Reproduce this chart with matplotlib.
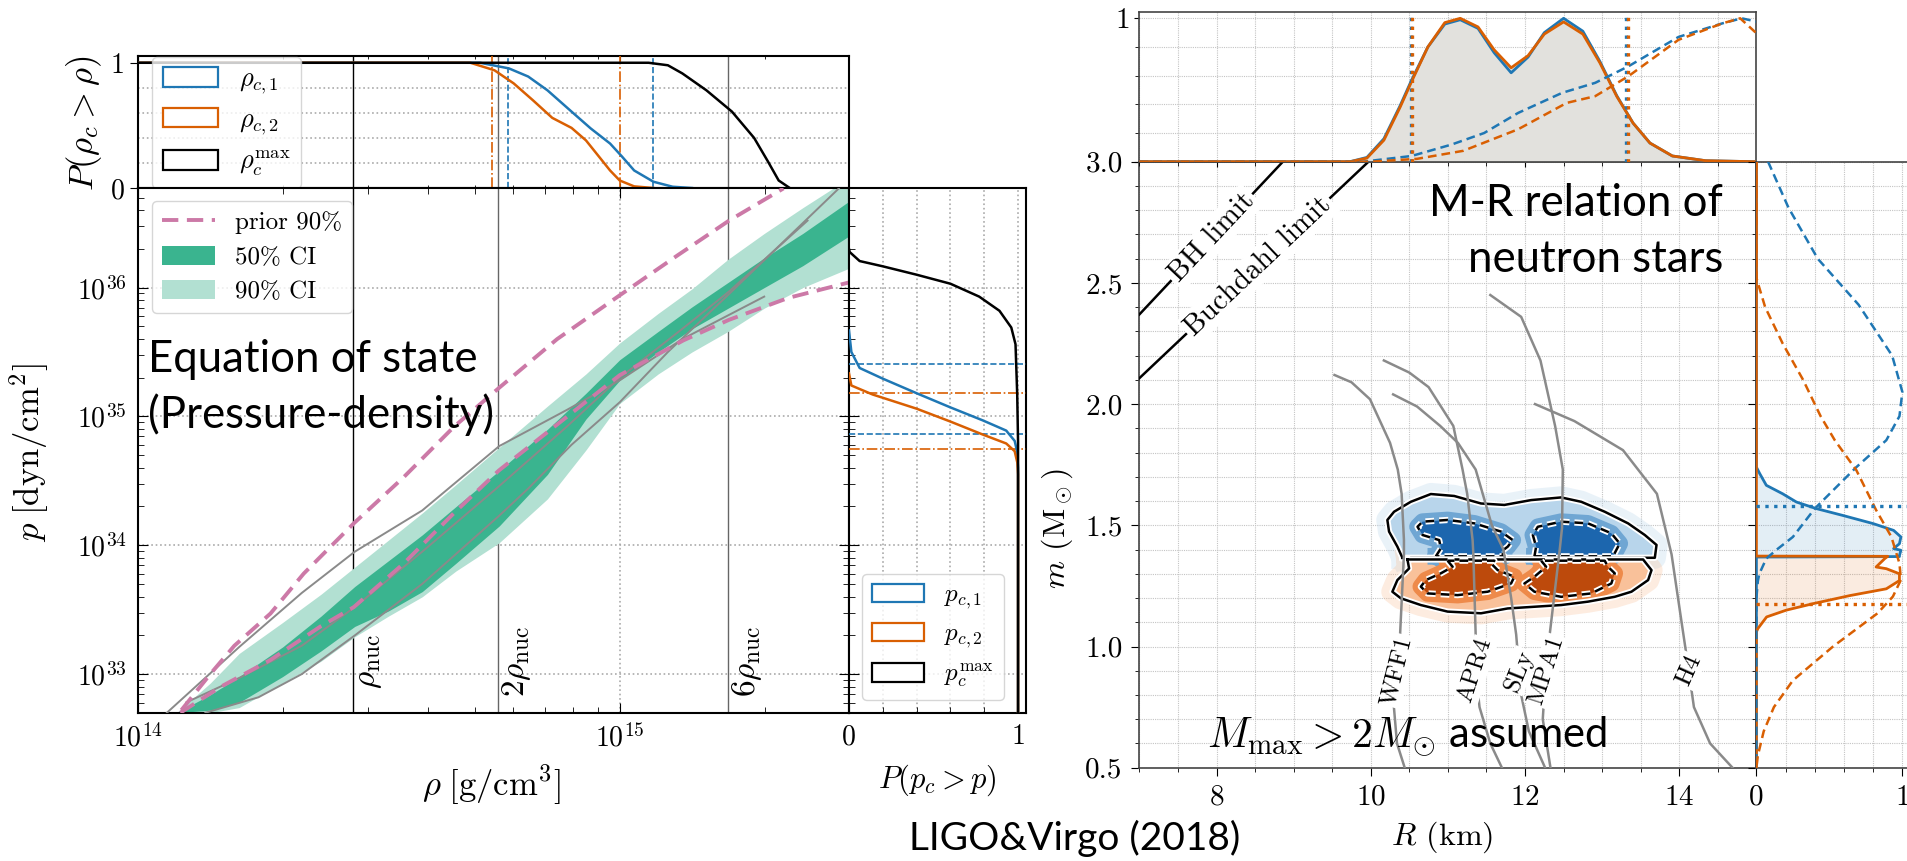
import numpy as np
import matplotlib
matplotlib.use("Agg")
import matplotlib.pyplot as plt
import matplotlib.patheffects as pe
from matplotlib.lines import Line2D
from matplotlib.patches import Patch
from matplotlib.ticker import MultipleLocator, FixedLocator, NullFormatter, LogLocator

plt.rcParams["font.family"] = ["cmr10", "DejaVu Serif"]
plt.rcParams["mathtext.fontset"] = "cm"
plt.rcParams["axes.formatter.use_mathtext"] = True
plt.rcParams["axes.unicode_minus"] = False

BLUE = "#1f77b4"
ORANGE = "#d95f02"
PINK = "#cc79a7"
DARK_GREEN = "#3ab48f"
LIGHT_GREEN = "#b2e0d2"
GREY = "#8a8a8a"
SANS = "Lato"

# ---------------- pressure-density data (log10 values) ----------------
log_rho_lim = (14.0, 15.476)
log_p_lim = (32.698, 36.773)
rho_nuc = 2.8e14
nuc_mult = [1, 2, 6]
nuc_text = [r"$\rho_{\rm nuc}$", r"$2\rho_{\rm nuc}$", r"$6\rho_{\rm nuc}$"]

# survival function of the central density
rc1_logrho = [14.0, 14.71, 14.77, 14.81, 14.85, 14.90, 14.94, 14.98, 15.005, 15.03, 15.07, 15.11, 15.15]
rc1_P = [1, 1, 0.955, 0.89, 0.78, 0.61, 0.475, 0.355, 0.25, 0.14, 0.05, 0.01, 0]
rc2_logrho = [14.0, 14.69, 14.74, 14.78, 14.82, 14.86, 14.90, 14.93, 14.955, 14.98, 15.00, 15.03, 15.07]
rc2_P = [1, 1, 0.94, 0.835, 0.70, 0.56, 0.48, 0.38, 0.26, 0.14, 0.06, 0.013, 0]
rcmax_logrho = [14.0, 15.06, 15.10, 15.13, 15.18, 15.233, 15.279, 15.308, 15.33, 15.353]
rcmax_P = [1, 1, 0.98, 0.915, 0.78, 0.61, 0.40, 0.21, 0.06, 0]
rc1_bounds = [14.769, 15.070]
rc2_bounds = [14.734, 15.0006]

# credible bands of the pressure
band_logrho = [14.08, 14.15, 14.21, 14.30, 14.38, 14.45, 14.52, 14.59, 14.66, 14.75,
               14.85, 14.93, 15.00, 15.08, 15.15, 15.225, 15.30, 15.38, 15.476]
ci90_hi = [32.70, 32.93, 33.16, 33.40, 33.62, 33.83, 34.04, 34.25, 34.47, 34.76,
           35.08, 35.33, 35.57, 35.80, 35.99, 36.22, 36.42, 36.62, 36.85]
ci50_hi = [32.70, 32.84, 32.98, 33.21, 33.45, 33.68, 33.88, 34.08, 34.30, 34.58,
           34.90, 35.18, 35.44, 35.66, 35.85, 36.04, 36.23, 36.42, 36.67]
ci50_lo = [32.70, 32.72, 32.78, 32.98, 33.18, 33.37, 33.49, 33.64, 33.86, 34.15,
           34.55, 34.98, 35.28, 35.50, 35.68, 35.84, 36.00, 36.17, 36.40]
ci90_lo = [32.70, 32.70, 32.74, 32.93, 33.10, 33.29, 33.45, 33.60, 33.80, 34.02,
           34.36, 34.74, 35.10, 35.33, 35.50, 35.66, 35.84, 36.00, 36.15]

prior_hi_logrho = [14.09, 14.15, 14.20, 14.275, 14.344, 14.448, 14.552, 14.656, 14.749, 14.87, 15.0, 15.12, 15.227, 15.34]
prior_hi_logp = [32.72, 33.00, 33.22, 33.47, 33.78, 34.17, 34.53, 34.92, 35.22, 35.60, 35.94, 36.25, 36.52, 36.77]
prior_lo_logrho = [14.088, 14.171, 14.275, 14.379, 14.448, 14.552, 14.656, 14.749, 14.871, 15.0, 15.132, 15.227, 15.35, 15.476]
prior_lo_logp = [32.70, 32.90, 33.11, 33.37, 33.52, 33.86, 34.25, 34.58, 34.94, 35.32, 35.59, 35.75, 35.92, 36.04]

eos_p_rho = [
    ([14.06, 14.21, 14.34, 14.45, 14.59, 14.75, 14.89, 15.0, 15.13, 15.30],
     [32.70, 33.21, 33.63, 33.95, 34.27, 34.77, 35.05, 35.28, 35.60, 35.93]),
    ([14.10, 14.21, 14.34, 14.45, 14.59, 14.75, 14.89, 15.0, 15.13, 15.227, 15.39],
     [32.78, 32.97, 33.22, 33.52, 33.95, 34.46, 34.92, 35.30, 35.68, 35.97, 36.52]),
    ([14.14, 14.25, 14.34, 14.45, 14.59, 14.75, 14.81, 14.90, 15.0, 15.10, 15.227, 15.455],
     [32.70, 32.82, 33.00, 33.30, 33.70, 34.23, 34.44, 34.78, 35.11, 35.50, 35.95, 36.77]),
]

# survival function of the central pressure
pc1_logp = [35.667, 35.50, 35.376, 35.293, 35.18, 35.07, 34.97, 34.89, 34.81, 34.73, 34.60, 32.70]
pc1_P = [0, 0.014, 0.063, 0.2, 0.4, 0.6, 0.79, 0.93, 0.98, 0.994, 1, 1]
pc2_logp = [35.334, 35.24, 35.17, 35.06, 34.96, 34.86, 34.79, 34.73, 34.64, 34.55, 32.70]
pc2_P = [0, 0.014, 0.14, 0.4, 0.6, 0.79, 0.93, 0.98, 0.996, 1, 1]
pcmax_logp = [36.30, 36.276, 36.206, 36.165, 36.10, 36.03, 35.93, 35.82, 35.69, 35.56, 35.17, 34.80, 32.70]
pcmax_P = [0, 0.004, 0.063, 0.2, 0.4, 0.6, 0.77, 0.89, 0.96, 0.985, 0.995, 1, 1]
pc1_bounds = [35.41, 34.86]
pc2_bounds = [35.18, 34.75]

# ---------------- mass-radius data ----------------
R_lim = (7.0, 15.0)
m_lim = (0.5, 3.0)
bh_R, bh_m = [7.0, 8.86], [2.37, 3.0]
buch_R, buch_m = [7.0, 9.97], [2.107, 3.0]
bh_label_R = 7.94
buch_label_R = 8.54

eos_names = ["WFF1", "APR4", "SLy", "MPA1", "H4"]
eos_R = [
    [9.53, 9.75, 9.99, 10.25, 10.35, 10.40, 10.43, 10.43, 10.38, 10.33, 10.30, 10.34, 10.44],
    [10.17, 10.50, 10.75, 11.07, 11.19, 11.25, 11.32, 11.33, 11.36, 11.36, 11.41, 11.55, 11.70],
    [10.29, 10.60, 10.90, 11.13, 11.36, 11.57, 11.72, 11.82, 11.885, 11.95, 12.05, 12.26],
    [11.55, 11.95, 12.20, 12.39, 12.49, 12.48, 12.45, 12.32, 12.25, 12.23, 12.33],
    [12.13, 12.64, 13.27, 13.71, 13.90, 14.03, 14.10, 14.19, 14.40, 14.69],
]
eos_m = [
    [2.12, 2.09, 2.02, 1.84, 1.73, 1.63, 1.44, 1.38, 1.05, 0.85, 0.75, 0.60, 0.50],
    [2.18, 2.13, 2.07, 1.91, 1.73, 1.63, 1.44, 1.38, 1.05, 0.90, 0.75, 0.60, 0.50],
    [2.04, 1.99, 1.91, 1.84, 1.73, 1.50, 1.40, 1.20, 1.05, 0.80, 0.65, 0.50],
    [2.45, 2.36, 2.18, 1.91, 1.73, 1.49, 1.40, 1.05, 0.80, 0.70, 0.50],
    [2.00, 1.93, 1.81, 1.63, 1.38, 1.10, 0.95, 0.75, 0.60, 0.50],
]
eos_label_m = 0.9
eos_label_rot = [76, 72, 68, 72, 66]

# 90% (outer) and 50% (inner) credible regions of (R, m) for both stars
m1_outer = ([10.41, 10.345, 10.237, 10.215, 10.302, 10.519, 10.779, 11.082, 11.429, 11.732, 12.079,
             12.469, 12.729, 13.033, 13.336, 13.553, 13.705, 13.683],
            [1.366, 1.412, 1.474, 1.522, 1.556, 1.597, 1.629, 1.621, 1.590, 1.584, 1.604,
             1.615, 1.597, 1.556, 1.508, 1.460, 1.419, 1.366])
m1_inner = [
    ([10.844, 10.909, 10.887, 10.671, 10.606, 10.671, 10.996, 11.343, 11.689, 11.841, 11.776, 11.689, 11.732],
     [1.372, 1.405, 1.439, 1.460, 1.494, 1.515, 1.522, 1.508, 1.474, 1.439, 1.412, 1.391, 1.372]),
    ([12.122, 12.144, 12.101, 12.166, 12.469, 12.816, 13.119, 13.228, 13.141],
     [1.372, 1.412, 1.460, 1.494, 1.515, 1.508, 1.467, 1.425, 1.372]),
]
m2_outer = ([10.475, 10.497, 10.345, 10.280, 10.389, 10.649, 10.996, 11.429, 11.776, 12.122, 12.469,
             12.816, 13.163, 13.380, 13.596, 13.640, 13.531],
            [1.359, 1.322, 1.274, 1.226, 1.199, 1.171, 1.144, 1.137, 1.157, 1.164, 1.171,
             1.185, 1.205, 1.226, 1.274, 1.315, 1.359])
m2_inner = [
    ([10.996, 11.061, 10.909, 10.714, 10.649, 10.736, 11.126, 11.516, 11.819, 11.862, 11.646, 11.559, 11.603],
     [1.354, 1.329, 1.302, 1.274, 1.247, 1.219, 1.212, 1.226, 1.260, 1.288, 1.315, 1.343, 1.354]),
    ([12.209, 12.274, 12.122, 11.992, 12.122, 12.469, 12.859, 13.119, 13.163, 13.076, 13.033],
     [1.354, 1.329, 1.288, 1.260, 1.226, 1.205, 1.219, 1.260, 1.302, 1.329, 1.354]),
]

# radius marginals (normalised)
R_marg = [7.0, 9.73, 9.95, 10.17, 10.38, 10.53, 10.74, 10.96, 11.16, 11.39, 11.60, 11.82, 12.04,
          12.25, 12.50, 12.75, 12.97, 13.19, 13.40, 13.62, 13.91, 14.34, 14.98, 15.0]
R1_pdf = [0, 0, 0.03, 0.16, 0.39, 0.57, 0.80, 0.96, 0.99, 0.93, 0.76, 0.62, 0.73,
          0.90, 1.0, 0.91, 0.70, 0.46, 0.27, 0.13, 0.04, 0.007, 0, 0]
R2_pdf = [0, 0, 0.025, 0.15, 0.38, 0.56, 0.80, 0.97, 1.0, 0.94, 0.78, 0.655, 0.74,
          0.89, 0.975, 0.89, 0.69, 0.455, 0.27, 0.13, 0.04, 0.007, 0, 0]
R1_prior_R = [7.0, 9.9, 10.53, 11.05, 11.47, 11.91, 12.48, 12.91, 13.34, 13.99, 14.56, 14.81, 15.0]
R1_prior = [0, 0, 0.04, 0.12, 0.20, 0.34, 0.48, 0.55, 0.665, 0.87, 0.965, 1.0, 0.977]
R2_prior_R = [7.0, 10.0, 10.6, 11.2, 11.91, 12.54, 12.91, 13.34, 13.99, 14.56, 14.79, 15.0]
R2_prior = [0, 0, 0.02, 0.076, 0.226, 0.41, 0.457, 0.596, 0.85, 0.965, 1.0, 0.896]
R1_bounds = [10.52, 13.31]
R2_bounds = [10.54, 13.33]

# mass marginals (normalised)
m1_m = [3.0, 1.74, 1.713, 1.665, 1.63, 1.596, 1.569, 1.541, 1.507, 1.479, 1.452, 1.424, 1.404,
        1.397, 1.376, 1.371, 1.369, 0.5]
m1_pdf = [0, 0, 0.023, 0.068, 0.18, 0.274, 0.41, 0.59, 0.80, 0.94, 0.99, 0.98, 0.94,
          0.99, 0.98, 0.98, 0, 0]
m2_m = [3.0, 1.373, 1.372, 1.363, 1.328, 1.321, 1.30, 1.272, 1.238, 1.21, 1.177, 1.15, 1.122,
        1.074, 1.06, 0.5]
m2_pdf = [0, 0, 0.90, 0.88, 0.82, 0.89, 0.98, 0.98, 0.89, 0.64, 0.39, 0.205, 0.07, 0.01, 0, 0]
m1_prior_m = [3.0, 2.81, 2.6, 2.41, 2.2, 2.05, 1.95, 1.851, 1.74, 1.644, 1.569, 1.452, 1.40,
              1.363, 1.30, 1.27, 1.2, 0.5]
m1_prior = [0.08, 0.22, 0.42, 0.70, 0.93, 1.0, 0.98, 0.89, 0.685, 0.525, 0.40, 0.25, 0.14,
            0.068, 0.02, 0.01, 0, 0]
m2_prior_m = [3.0, 2.52, 2.40, 2.25, 2.1, 1.95, 1.851, 1.727, 1.563, 1.452, 1.343, 1.275, 1.206,
              1.137, 1.0, 0.86, 0.75, 0.65, 0.55, 0.5]
m2_prior = [0, 0, 0.06, 0.18, 0.32, 0.44, 0.537, 0.685, 0.82, 0.925, 0.98, 0.99, 0.935,
            0.83, 0.525, 0.25, 0.12, 0.05, 0.01, 0]
m1_bound = 1.578
m2_bound = 1.177

# ---------------------------------------------------------------------
W, H = 1907, 861
fig = plt.figure(figsize=(W / 100, H / 100), dpi=100)


def box(x0, y0, x1, y1):
    return [x0 / W, 1 - y1 / H, (x1 - x0) / W, (y1 - y0) / H]


def lin(v):
    return 10 ** np.asarray(v, dtype=float)


TICK = 20
LAB = 25

# ---------------- P(rho_c > rho) ----------------
ax_top = fig.add_axes(box(138, 56, 849, 188))
ax_eos = fig.add_axes(box(138, 188, 849, 713))
ax_pc = fig.add_axes(box(849, 188, 1026, 713))

for ax in (ax_top, ax_eos):
    ax.set_xscale("log")
    ax.set_xlim(lin(log_rho_lim))
    for k in nuc_mult:
        ax.axvline(k * rho_nuc, color="k" if k == 1 else "#666666", lw=1.0, zorder=1)

ax_top.plot(lin(rc1_logrho), rc1_P, color=BLUE, lw=1.8, zorder=4)
ax_top.plot(lin(rc2_logrho), rc2_P, color=ORANGE, lw=1.8, zorder=4)
ax_top.plot(lin(rcmax_logrho), rcmax_P, color="k", lw=1.8, zorder=4)
for x in rc1_bounds:
    ax_top.axvline(10 ** x, color=BLUE, ls="--", lw=1.2, zorder=3)
for x in rc2_bounds:
    ax_top.axvline(10 ** x, color=ORANGE, ls="-.", lw=1.2, zorder=3)
ax_top.set_ylim(0, 1.054)
ax_top.set_yticks([0, 1])
ax_top.set_yticklabels(["0", "1"])
ax_top.set_yticks([0.2, 0.4, 0.6, 0.8], minor=True)
ax_top.grid(which="minor", axis="y", ls=":", color="#aaaaaa", lw=1.2)
ax_top.tick_params(axis="x", which="both", labelbottom=False, direction="in", top=True)
ax_top.tick_params(axis="y", which="both", direction="in", labelsize=TICK, length=0)
ax_top.tick_params(axis="y", which="major", length=6, direction="out")
ax_top.xaxis.set_minor_formatter(NullFormatter())
leg = ax_top.legend(
    handles=[Patch(facecolor="white", edgecolor=c, lw=1.6) for c in (BLUE, ORANGE, "k")],
    labels=[r"$\rho_{c,1}$", r"$\rho_{c,2}$", r"$\rho_c^{\rm max}$"],
    loc="upper left", bbox_to_anchor=(0.0197, 0.995), borderaxespad=0, fontsize=19,
    handlelength=2.1, handleheight=0.75, labelspacing=0.45, framealpha=0.8,
    edgecolor="#cccccc")

# ---------------- pressure vs density ----------------
ax_eos.set_yscale("log")
ax_eos.set_ylim(lin(log_p_lim))
ax_eos.fill_between(lin(band_logrho), lin(ci90_lo), lin(ci90_hi), color=LIGHT_GREEN, lw=0, zorder=2)
ax_eos.fill_between(lin(band_logrho), lin(ci50_lo), lin(ci50_hi), color=DARK_GREEN, lw=0, zorder=2.1)
for xs, ys in eos_p_rho:
    ax_eos.plot(lin(xs), lin(ys), color=GREY, lw=1.4, zorder=3)
ax_eos.plot(lin(prior_hi_logrho), lin(prior_hi_logp), color=PINK, lw=2.8, dashes=(4.2, 2.2), zorder=4)
ax_eos.plot(lin(prior_lo_logrho), lin(prior_lo_logp), color=PINK, lw=2.8, dashes=(4.2, 2.2), zorder=4)
ax_eos.grid(which="major", ls=":", color="#aaaaaa", lw=1.2)
ax_eos.set_axisbelow(True)
ax_eos.yaxis.set_major_locator(LogLocator(base=10, numticks=10))
ax_eos.yaxis.set_minor_locator(LogLocator(base=10, subs=np.arange(2, 10), numticks=20))
ax_eos.yaxis.set_minor_formatter(NullFormatter())
ax_eos.xaxis.set_minor_formatter(NullFormatter())
ax_eos.tick_params(which="both", direction="in", top=True, right=True, labelsize=TICK)
ax_eos.tick_params(which="major", length=7, pad=8)
ax_eos.tick_params(which="minor", length=4)
for k, t in zip(nuc_mult, nuc_text):
    ax_eos.text(k * rho_nuc * 10 ** (2 / 481), 10 ** 33.10, t, rotation=90,
                ha="left", va="center", fontsize=24)
ax_eos.legend(
    handles=[Line2D([], [], color=PINK, lw=2.8, dashes=(4.2, 2.2)),
             Patch(facecolor=DARK_GREEN), Patch(facecolor=LIGHT_GREEN)],
    labels=["prior 90%", "50% CI", "90% CI"],
    loc="upper left", bbox_to_anchor=(0.0197, 0.975), borderaxespad=0, fontsize=18,
    handlelength=2.1, handleheight=0.8, labelspacing=0.45, framealpha=0.8,
    edgecolor="#cccccc")

# ---------------- P(p_c > p) ----------------
ax_pc.set_yscale("log")
ax_pc.set_ylim(lin(log_p_lim))
ax_pc.set_xlim(0, 1.047)
ax_pc.plot(pc1_P, lin(pc1_logp), color=BLUE, lw=1.8, zorder=4)
ax_pc.plot(pc2_P, lin(pc2_logp), color=ORANGE, lw=1.8, zorder=4)
ax_pc.plot(pcmax_P, lin(pcmax_logp), color="k", lw=1.8, zorder=4)
for y in pc1_bounds:
    ax_pc.axhline(10 ** y, color=BLUE, ls="--", lw=1.2, zorder=3)
for y in pc2_bounds:
    ax_pc.axhline(10 ** y, color=ORANGE, ls="-.", lw=1.2, zorder=3)
ax_pc.set_xticks([0, 1])
ax_pc.set_xticklabels(["0", "1"])
ax_pc.set_xticks([0.2, 0.4, 0.6, 0.8], minor=True)
ax_pc.grid(which="both", ls=":", color="#aaaaaa", lw=1.2)
ax_pc.grid(which="minor", axis="y", visible=False)
ax_pc.yaxis.set_major_locator(LogLocator(base=10, numticks=10))
ax_pc.yaxis.set_minor_locator(LogLocator(base=10, subs=np.arange(2, 10), numticks=20))
ax_pc.yaxis.set_major_formatter(NullFormatter())
ax_pc.yaxis.set_minor_formatter(NullFormatter())
ax_pc.tick_params(which="both", direction="in", labelsize=TICK)
ax_pc.tick_params(which="major", length=7, pad=8)
ax_pc.tick_params(which="minor", length=4)
ax_pc.legend(
    handles=[Patch(facecolor="white", edgecolor=c, lw=1.6) for c in (BLUE, ORANGE, "k")],
    labels=[r"$p_{c,1}$", r"$p_{c,2}$", r"$p_c^{\rm max}$"],
    loc="lower left", bbox_to_anchor=(0.073, 0.025), borderaxespad=0, fontsize=18,
    handlelength=2.1, handleheight=0.75, labelspacing=0.45, framealpha=0.8,
    edgecolor="#cccccc")

for ax in (ax_top, ax_eos, ax_pc):
    for s in ax.spines.values():
        s.set_linewidth(1.5)

fig.text(84 / W, 1 - 123 / H, r"$P(\rho_c > \rho)$", rotation=90, ha="center", va="center", fontsize=LAB)
fig.text(29 / W, 1 - 453 / H, r"$p\;[\mathrm{dyn/cm^2}]$", rotation=90, ha="center", va="center", fontsize=LAB)
fig.text(491 / W, 1 - 785 / H, r"$\rho\;[\mathrm{g/cm^3}]$", ha="center", va="center", fontsize=LAB)
fig.text(937 / W, 1 - 780 / H, r"$P(p_c > p)$", ha="center", va="center", fontsize=LAB - 3)

# ---------------- mass-radius ----------------
ax_mr = fig.add_axes(box(1139.4, 161.7, 1756.4, 767.7))
ax_rt = fig.add_axes(box(1139.4, 12, 1756.4, 161.7))
ax_mt = fig.add_axes(box(1756.4, 161.7, 1912, 767.7))

GRID = dict(ls=(0, (1, 1)), color="#c4c4c4", lw=0.8)

ax_mr.set_xlim(R_lim)
ax_mr.set_ylim(m_lim)
ax_mr.xaxis.set_major_locator(FixedLocator([8, 10, 12, 14]))
ax_mr.xaxis.set_minor_locator(MultipleLocator(0.5))
ax_mr.yaxis.set_major_locator(MultipleLocator(0.5))
ax_mr.yaxis.set_minor_locator(MultipleLocator(0.1))
ax_mr.yaxis.set_major_formatter(plt.FormatStrFormatter("%.1f"))
ax_mr.grid(which="both", **GRID)
ax_mr.set_axisbelow(True)
ax_mr.tick_params(which="both", direction="out", labelsize=TICK + 1)
ax_mr.tick_params(which="major", length=6, pad=6)
ax_mr.tick_params(which="minor", length=3)


def draw_limit(R, m, label_R, text):
    ax_mr.plot(R, m, color="k", lw=1.8, zorder=3)
    lm = np.interp(label_R, R, m)
    p = ax_mr.transData.transform([(R[0], m[0]), (R[-1], m[-1])])
    ang = np.degrees(np.arctan2(p[1, 1] - p[0, 1], p[1, 0] - p[0, 0]))
    ax_mr.text(label_R, lm, text, rotation=ang, rotation_mode="anchor", ha="center", va="center",
               fontsize=21, zorder=4,
               bbox=dict(boxstyle="square,pad=0.1", fc="white", ec="none"))


draw_limit(bh_R, bh_m, bh_label_R, "BH limit")
draw_limit(buch_R, buch_m, buch_label_R, "Buchdahl limit")


def region(outer, inners, light, mid, dark):
    xo = list(outer[0]) + [outer[0][0]]
    yo = list(outer[1]) + [outer[1][0]]
    ax_mr.plot(xo, yo, color=light, lw=16, alpha=0.3, solid_joinstyle="round", zorder=2)
    ax_mr.fill(outer[0], outer[1], color=light, lw=0, zorder=2.2)
    for xi, yi in inners:
        ax_mr.plot(list(xi) + [xi[0]], list(yi) + [yi[0]], color=mid, lw=12,
                   solid_joinstyle="round", zorder=2.3)
        ax_mr.fill(xi, yi, color=dark, lw=0, zorder=2.4)
    halo = [pe.Stroke(linewidth=4.5, foreground="white"), pe.Normal()]
    ax_mr.plot(xo, yo, color="k", lw=1.8, zorder=2.6, path_effects=halo)
    for xi, yi in inners:
        ax_mr.plot(list(xi) + [xi[0]], list(yi) + [yi[0]], color="k", lw=1.8,
                   dashes=(3.5, 2), zorder=2.6, path_effects=halo)


region(m1_outer, m1_inner, "#b8d5eb", "#6fa6d3", "#1c66ae")
region(m2_outer, m2_inner, "#f9c19a", "#ee8a4a", "#bd4a0c")

for name, R, m, rot in zip(eos_names, eos_R, eos_m, eos_label_rot):
    ax_mr.plot(R, m, color=GREY, lw=1.8, zorder=3)
    lr = np.interp(eos_label_m, m[::-1], R[::-1])
    ax_mr.text(lr, eos_label_m, name, rotation=rot, ha="center", va="center", fontsize=18,
               zorder=4, bbox=dict(boxstyle="square,pad=0.05", fc="white", ec="none"))

# radius marginal
ax_rt.set_xlim(R_lim)
ax_rt.set_ylim(0, 1.044)
ax_rt.fill_between(R_marg, R1_pdf, color="#e2e1dd", lw=0, zorder=1)
ax_rt.fill_between(R_marg, R2_pdf, color="#e2e1dd", lw=0, zorder=1)
ax_rt.plot(R_marg, R1_pdf, color=BLUE, lw=2.0, zorder=3)
ax_rt.plot(R_marg, R2_pdf, color=ORANGE, lw=2.0, zorder=3)
ax_rt.plot(R1_prior_R, R1_prior, color=BLUE, lw=1.8, dashes=(3.5, 2), zorder=3)
ax_rt.plot(R2_prior_R, R2_prior, color=ORANGE, lw=1.8, dashes=(3.5, 2), zorder=3)
for x in R1_bounds:
    ax_rt.axvline(x, color=BLUE, ls=":", lw=2.4, zorder=3)
for x in R2_bounds:
    ax_rt.axvline(x, color=ORANGE, ls=":", lw=2.4, zorder=3)
ax_rt.xaxis.set_major_locator(FixedLocator([8, 10, 12, 14]))
ax_rt.xaxis.set_minor_locator(MultipleLocator(0.5))
ax_rt.set_yticks([0, 1])
ax_rt.set_yticklabels(["", "1"])
ax_rt.set_yticks([0.2, 0.4, 0.6, 0.8], minor=True)
ax_rt.grid(which="both", **GRID)
ax_rt.set_axisbelow(True)
ax_rt.tick_params(which="both", direction="out", labelbottom=False, labelsize=TICK + 1)
ax_rt.tick_params(which="minor", length=3)

# mass marginal
ax_mt.set_ylim(m_lim)
ax_mt.set_xlim(0, 1.066)
ax_mt.fill_betweenx(m1_m, m1_pdf, color=BLUE, alpha=0.12, lw=0, zorder=1)
ax_mt.fill_betweenx(m2_m, m2_pdf, color=ORANGE, alpha=0.12, lw=0, zorder=1)
ax_mt.plot(m1_pdf, m1_m, color=BLUE, lw=2.0, zorder=3)
ax_mt.plot(m2_pdf, m2_m, color=ORANGE, lw=2.0, zorder=3)
ax_mt.plot(m1_prior, m1_prior_m, color=BLUE, lw=1.8, dashes=(3.5, 2), zorder=3)
ax_mt.plot(m2_prior, m2_prior_m, color=ORANGE, lw=1.8, dashes=(3.5, 2), zorder=3)
ax_mt.axhline(m1_bound, color=BLUE, ls=":", lw=2.4, zorder=3)
ax_mt.axhline(m2_bound, color=ORANGE, ls=":", lw=2.4, zorder=3)
ax_mt.set_xticks([0, 1])
ax_mt.set_xticklabels(["0", "1"])
ax_mt.set_xticks([0.2, 0.4, 0.6, 0.8], minor=True)
ax_mt.yaxis.set_major_locator(MultipleLocator(0.5))
ax_mt.yaxis.set_minor_locator(MultipleLocator(0.1))
ax_mt.yaxis.set_major_formatter(NullFormatter())
ax_mt.grid(which="both", **GRID)
ax_mt.set_axisbelow(True)
ax_mt.tick_params(which="both", direction="out", labelsize=TICK + 1)
ax_mt.tick_params(which="major", length=6, pad=6)
ax_mt.tick_params(which="minor", length=3)
ax_mt.spines["right"].set_visible(False)

for ax in (ax_mr, ax_rt, ax_mt):
    for s in ax.spines.values():
        s.set_color("#444444")
        s.set_linewidth(1.2)

fig.text(1442 / W, 1 - 837 / H, r"$R$ (km)", ha="center", va="center", fontsize=LAB - 2)
fig.text(1057 / W, 1 - 529 / H, r"$m$ (M$_\odot$)", rotation=90, ha="center", va="center", fontsize=LAB - 2)

# ---------------- annotations ----------------
BIG = 31.5
fig.text(148 / W, 1 - 360 / H, "Equation of state", fontsize=BIG, family=SANS, ha="left", va="center")
fig.text(148 / W, 1 - 415 / H, "(Pressure-density)", fontsize=BIG, family=SANS, ha="left", va="center")
fig.text(1723 / W, 1 - 203 / H, "M-R relation of", fontsize=BIG, family=SANS, ha="right", va="center")
fig.text(1723 / W, 1 - 260 / H, "neutron stars", fontsize=BIG, family=SANS, ha="right", va="center")
fig.text(1207 / W, 1 - 747 / H, r"$M_{\rm max} > 2M_{\odot}$ assumed", fontsize=30, family=SANS,
         ha="left", va="baseline")
fig.text(1075 / W, 1 - 838 / H, "LIGO&Virgo (2018)", fontsize=28, family=SANS, ha="center", va="center")

fig.savefig("out.png", dpi=100)
